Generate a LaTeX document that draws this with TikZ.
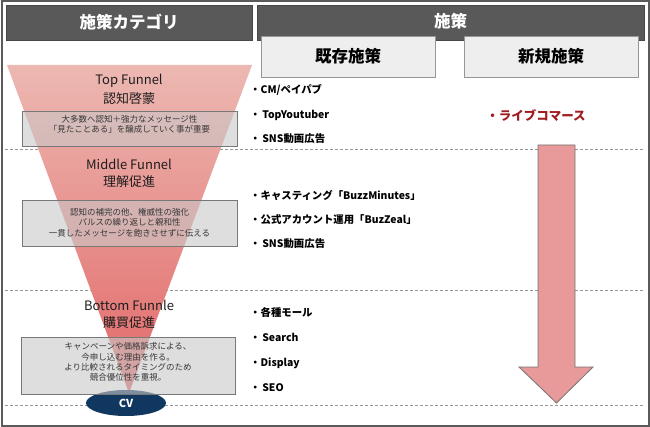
\documentclass[tikz,border=0pt]{standalone}
\usepackage{fontspec}
\setmainfont{Noto Sans CJK JP}
\usetikzlibrary{shapes.geometric}
\definecolor{hdrc}{RGB}{89,89,89}
\definecolor{framec}{RGB}{90,90,90}
\definecolor{subc}{RGB}{238,238,238}
\definecolor{subb}{RGB}{150,150,150}
\definecolor{dashc}{RGB}{150,150,150}
\definecolor{funtop}{RGB}{237,184,178}
\definecolor{funbot}{RGB}{226,104,104}
\definecolor{boxf}{RGB}{200,200,200}
\definecolor{boxb}{RGB}{120,120,120}
\definecolor{navy}{RGB}{16,55,96}
\definecolor{newc}{RGB}{160,28,30}
\definecolor{arrowf}{RGB}{232,153,153}
\definecolor{arrowb}{RGB}{115,115,115}
\definecolor{txtc}{RGB}{30,30,30}
\definecolor{boxt}{RGB}{55,55,55}
\tikzset{
  hdrbox/.style={fill=hdrc, draw=hdrc!80!black, line width=0.6pt, inner sep=0pt, text=white, font=\fontsize{16.5}{18}\selectfont\bfseries},
  subbox/.style={fill=subc, draw=subb, line width=0.8pt, inner sep=0pt, text=black, font=\fontsize{16.5}{18}\selectfont\bfseries},
  funtitle/.style={text=txtc, inner sep=0pt, font=\fontsize{13}{15}\selectfont},
  descbox/.style={fill=boxf, fill opacity=0.6, draw=boxb, draw opacity=1, line width=0.8pt, inner sep=0pt},
  desctext/.style={text=boxt, inner sep=0pt, align=center, font=\fontsize{8.5}{10.3}\selectfont},
  item/.style={anchor=west, inner sep=0pt, text=black, font=\fontsize{10.4}{12}\selectfont\bfseries},
  dashline/.style={draw=dashc, line width=0.9pt, dash pattern=on 3pt off 2pt},
}
\begin{document}
\begin{tikzpicture}[x=1pt,y=-1pt]
\useasboundingbox (0,0) rectangle (650,427);
\fill[white] (0,0) rectangle (650,427);
\draw[framec, line width=2pt] (1.5,1.5) rectangle (648.5,425.5);

% dashed separators
\draw[dashline] (5,149) -- (645,149);
\draw[dashline] (5,290) -- (645,290);
\draw[dashline] (5,405) -- (645,405);

% headers
\node[hdrbox, minimum width=246pt, minimum height=35pt] (hcat) at (129,22.5) {施策カテゴリ};
\node[hdrbox, minimum width=387pt, minimum height=35pt] (hmeas) at (450.5,22.5) {};
\node[text=white, inner sep=0pt, font=\fontsize{16.5}{18}\selectfont\bfseries] (hmeastxt) at (450.5,21) {施策};
\node[subbox, minimum width=174pt, minimum height=41pt] (hexist) at (348,56.5) {既存施策};
\node[subbox, minimum width=174pt, minimum height=41pt] (hnew) at (551,56.5) {新規施策};

% funnel
\shade[top color=funtop, bottom color=funbot] (7,65) -- (252,65) -- (129,393) -- cycle;

% CV
\node[ellipse, fill=navy, minimum width=80pt, minimum height=26pt, inner sep=0pt] (cv) at (126,403) {};

% funnel titles
\node[funtitle] (t1a) at (129,81) {Top Funnel};
\node[funtitle] (t1b) at (129,99) {認知啓蒙};
\node[funtitle] (t2a) at (129,164) {Middle Funnel};
\node[funtitle] (t2b) at (129,182) {理解促進};
\node[funtitle] (t3a) at (129,305) {Bottom Funnle};
\node[funtitle] (t3b) at (129,323) {購買促進};

% description boxes
\node[descbox, minimum width=215pt, minimum height=35pt] (b1) at (129.5,128.5) {};
\node[descbox, minimum width=215pt, minimum height=46pt] (b2) at (129.5,223) {};
\node[descbox, minimum width=214pt, minimum height=57pt] (b3) at (128,365.5) {};
\node[desctext] (d1) at (129.5,124.5) {大多数へ認知＋強力なメッセージ性\\「見たことある」を醸成していく事が重要};
\node[desctext] (d2) at (129.5,222.5) {認知の補完の他、権威性の強化\\パルスの繰り返しと親和性\\一貫したメッセージを飽きさせずに伝える};
\node[desctext] (d3) at (128,362) {キャンペーンや価格訴求による、\\今申し込む理由を作る。\\より比較されるタイミングのため\\競合優位性を重視。};

\node[text=white, inner sep=0pt, font=\fontsize{11}{12}\selectfont\bfseries] (cvt) at (cv) {CV};

% existing measures
\node[item] (e1) at (250,90) {・CM/ペイパブ};
\node[item] (e2) at (250,115) {・\,TopYoutuber};
\node[item] (e3) at (250,139) {・\,SNS動画広告};
\node[item] (e4) at (250,196) {・キャスティング「BuzzMinutes」};
\node[item] (e5) at (250,220) {・公式アカウント運用「BuzZeal」};
\node[item] (e6) at (250,244) {・\,SNS動画広告};
\node[item] (e7) at (250,312) {・各種モール};
\node[item] (e8) at (250,337) {・\,Search};
\node[item] (e9) at (250,363) {・Display};
\node[item] (e10) at (250,388) {・\,SEO};

% new measure
\node[inner sep=0pt, text=newc, font=\fontsize{12.5}{14}\selectfont\bfseries] (n1) at (536,116) {・ライブコマース};

% big arrow
\draw[fill=arrowf, draw=arrowb, line width=0.8pt, line join=miter]
  (538,145) -- (575,145) -- (575,367) -- (593,367) -- (556.5,403) -- (519,367) -- (538,367) -- cycle;
\end{tikzpicture}
\end{document}
